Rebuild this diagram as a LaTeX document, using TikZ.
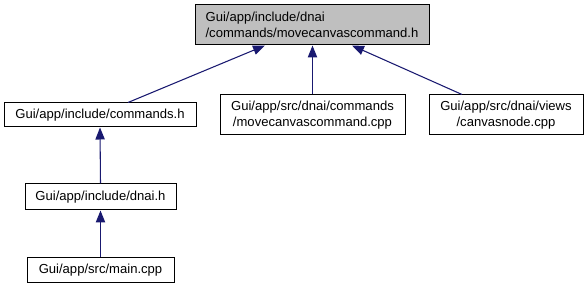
\documentclass[tikz,border=0pt]{standalone}
\usepackage{fontspec}
\setmainfont{Liberation Sans}
\usetikzlibrary{arrows.meta}
\definecolor{azulnoche}{HTML}{191970}
\definecolor{grisnodo}{HTML}{BFBFBF}

\begin{document}
\begin{tikzpicture}[x=0.75pt,y=-0.75pt,
        archivo/.style={draw=black,fill=white,line width=0.75pt,inner sep=0pt,
            align=center,font=\fontsize{9.8}{11.5}\selectfont},
        flecha/.style={draw=azulnoche,line width=0.8pt,
            -{Triangle[length=9pt,width=7pt]}}]
    \useasboundingbox (0,0) rectangle (587,291);
    \node[archivo,fill=grisnodo,align=left,minimum width=175.5pt,minimum height=30pt] (nodo1) at (312,25) {Gui/app/include/dnai\\/commands/movecanvascommand.h};
    \node[archivo,minimum width=144pt,minimum height=18pt] (nodo2) at (100,115) {Gui/app/include/commands.h};
    \node[archivo,minimum width=138.75pt,minimum height=30pt] (nodo3) at (312.5,115) {Gui/app/src/dnai/commands\\/movecanvascommand.cpp};
    \node[archivo,minimum width=115.5pt,minimum height=30pt] (nodo4) at (506,115) {Gui/app/src/dnai/views\\/canvasnode.cpp};
    \node[archivo,minimum width=113.25pt,minimum height=19.5pt] (nodo5) at (100.5,197) {Gui/app/include/dnai.h};
    \node[archivo,minimum width=110.25pt,minimum height=18.75pt] (nodo6) at (100.5,270.5) {Gui/app/src/main.cpp};
    \draw[flecha] ([xshift=21pt]nodo2.north) -- ([xshift=-35.25pt]nodo1.south);
    \draw[flecha] (nodo3.north) -- (nodo3.north |- nodo1.south);
    \draw[flecha] ([xshift=-33pt]nodo4.north) -- ([xshift=30pt]nodo1.south);
    \draw[flecha] (nodo5.north) -- (nodo2.south);
    \draw[flecha] (nodo6.north) -- (nodo5.south);
\end{tikzpicture}
\end{document}
